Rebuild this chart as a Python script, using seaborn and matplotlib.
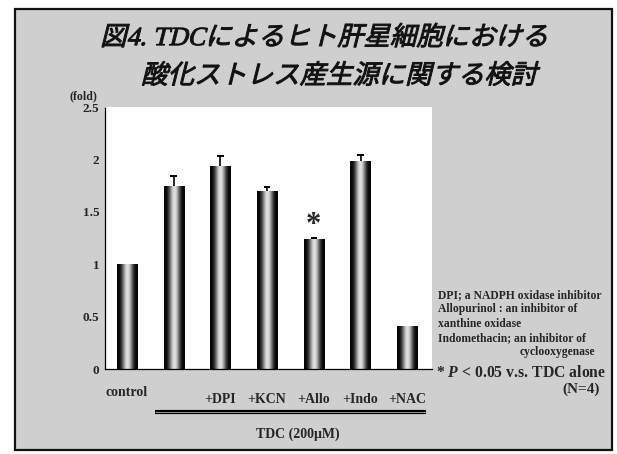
import numpy as np
import pandas as pd
import matplotlib
matplotlib.use("Agg")
import matplotlib.pyplot as plt
import seaborn as sns
from matplotlib.patches import Rectangle
from matplotlib.patheffects import AbstractPathEffect
from matplotlib.transforms import Affine2D, ScaledTranslation, blended_transform_factory

# ---- data -------------------------------------------------------------
groups = ["control", "TDC", "+DPI", "+KCN", "+Allo", "+Indo", "+NAC"]
tick_labels = ["control", "", "+DPI", "+KCN", "+Allo", "+Indo", "+NAC"]
fold_change = [1.0, 1.75, 1.94, 1.70, 1.24, 1.98, 0.41]
sem_upper = [0.0, 0.09, 0.09, 0.04, 0.01, 0.06, 0.0]
significant = [False, False, False, False, True, False, False]
y_ticks = [0, 0.5, 1, 1.5, 2, 2.5]
y_tick_labels = ["0", "0.5", "1", "1.5", "2", "2.5"]
title_lines = ["図4. TDCによるヒト肝星細胞における", "酸化ストレス産生源に関する検討"]
notes = ["DPI; a NADPH oxidase inhibitor",
         "Allopurinol : an inhibitor of",
         "xanthine oxidase",
         "Indomethacin; an inhibitor of"]
note_last = "cyclooxygenase"
stat_note = r"* $P$ < 0.05 v.s. TDC alone"
n_note = "(N=4)"
treatment_label = "TDC (200μM)"
unit_label = "(fold)"

# ---- style ------------------------------------------------------------
sns.set_theme(style="white")
plt.rcParams["font.family"] = ["Liberation Serif", "Noto Sans CJK JP"]
plt.rcParams["font.weight"] = "bold"
plt.rcParams["mathtext.fontset"] = "custom"
plt.rcParams["mathtext.it"] = "Liberation Serif:italic:bold"
plt.rcParams["mathtext.rm"] = "Liberation Serif:bold"

W, H = 617, 454


def fx(px):
    return px / W


def fy(py):
    return 1 - py / H


class ObliqueStroke(AbstractPathEffect):
    """Shear glyph outlines for an italic look and thicken them slightly."""

    def __init__(self, shear_deg=13, stroke=0.6):
        super().__init__()
        self.shear = shear_deg
        self.stroke = stroke

    def draw_path(self, renderer, gc, tpath, affine, rgbFace=None):
        sheared = Affine2D().skew_deg(self.shear, 0) + affine
        gc0 = renderer.new_gc()
        gc0.copy_properties(gc)
        gc0.set_linewidth(self.stroke)
        gc0.set_foreground(rgbFace)
        renderer.draw_path(gc0, tpath, sheared, rgbFace)
        gc0.restore()


fig = plt.figure(figsize=(W / 100, H / 100), dpi=100)
fig.patch.set_facecolor("white")

# slide panel
fig.add_artist(Rectangle((fx(15), fy(450)), fx(612) - fx(15), fy(9) - fy(450),
                         transform=fig.transFigure, facecolor="#cfcfcf",
                         edgecolor="#111111", lw=1.6, zorder=0))

ax = fig.add_axes([fx(105), fy(369), fx(432) - fx(105), fy(107) - fy(369)])
ax.set_facecolor("white")

df = pd.DataFrame({"group": groups, "fold": fold_change})
sns.barplot(data=df, x="group", y="fold", order=groups, color="black",
            saturation=1, width=0.43, errorbar=None, ax=ax, zorder=2)

# cylindrical shading on each bar
u = np.linspace(0, 1, 80)
shade = 0.02 + 0.86 * np.sin(np.pi * u) ** 3.0
grad = np.tile(shade, (4, 1))
for patch in ax.patches:
    x0, y0 = patch.get_x(), patch.get_y()
    w, h = patch.get_width(), patch.get_height()
    im = ax.imshow(grad, extent=[x0, x0 + w, y0, y0 + h], aspect="auto",
                   cmap="gray", vmin=0, vmax=1, interpolation="bilinear", zorder=2.5)
    im.set_clip_path(patch)

# upper error bars
xs = np.arange(len(groups))
tops = np.array(fold_change)
errs = np.array(sem_upper)
has_err = errs > 0
ax.vlines(xs[has_err], tops[has_err], tops[has_err] + errs[has_err],
          color="black", lw=1.2, zorder=3)
ax.hlines(tops[has_err] + errs[has_err], xs[has_err] - 0.07, xs[has_err] + 0.07,
          color="black", lw=1.4, zorder=3)

for i, flag in enumerate(significant):
    if flag:
        ax.text(i, fold_change[i] + sem_upper[i] + 0.12, "*", ha="center",
                va="center", fontsize=22, fontweight="bold")

ax.set_xlim(-0.47, 6.53)
ax.set_ylim(0, 2.5)
ax.set_xlabel("")
ax.set_ylabel("")
ax.set_yticks(y_ticks)
ax.set_yticklabels(y_tick_labels, fontsize=9.5, fontweight="bold")
ax.set_xticks(xs)
ax.set_xticklabels(tick_labels, fontsize=10, fontweight="bold")
ax.tick_params(axis="y", length=0, pad=4)
ax.tick_params(axis="x", length=0, pad=17)
lbl0 = ax.get_xticklabels()[0]
lbl0.set_transform(lbl0.get_transform() + ScaledTranslation(0, 5 / 72, fig.dpi_scale_trans))

for side in ("top", "right"):
    ax.spines[side].set_visible(False)
for side in ("left", "bottom"):
    ax.spines[side].set_color("black")
    ax.spines[side].set_linewidth(0.9)
    ax.spines[side].set_linestyle((0, (2, 1)))

# bracket under the TDC-treated groups
bt = blended_transform_factory(ax.transData, ax.transAxes)
ax.plot([0.6, 6.4], [-0.165, -0.165], transform=bt, color="black", lw=3,
        clip_on=False, solid_capstyle="butt")
ax.plot([0.6, 6.4], [-0.165, -0.165], transform=bt, color="#9a9a9a", lw=0.7,
        clip_on=False, solid_capstyle="butt")

# texts
title_family = ["Liberation Serif", "Noto Sans CJK JP", "DejaVu Sans"]
fig.text(fx(324), fy(38), title_lines[0], fontsize=19, fontweight="normal",
         family=title_family, ha="center", va="center",
         color="#111111", path_effects=[ObliqueStroke(14, 0.7)])
fig.text(fx(339), fy(76), title_lines[1], fontsize=19, fontweight="normal",
         family=title_family, ha="center", va="center",
         color="#111111", path_effects=[ObliqueStroke(14, 0.7)])
fig.text(fx(83), fy(96), unit_label, fontsize=8.5, ha="center", va="center")

for k, line in enumerate(notes):
    fig.text(fx(438), fy(295 + 14.3 * k), line, fontsize=8.4, ha="left", va="center")
fig.text(fx(595), fy(352), note_last, fontsize=8.4, ha="right", va="center")
fig.text(fx(436), fy(373), stat_note, fontsize=11.3, ha="left", va="center")
fig.text(fx(600), fy(389), n_note, fontsize=11, ha="right", va="center")
fig.text(fx(298), fy(434), treatment_label, fontsize=10, ha="center", va="center")

fig.savefig("out.png", dpi=100, facecolor=fig.get_facecolor())
